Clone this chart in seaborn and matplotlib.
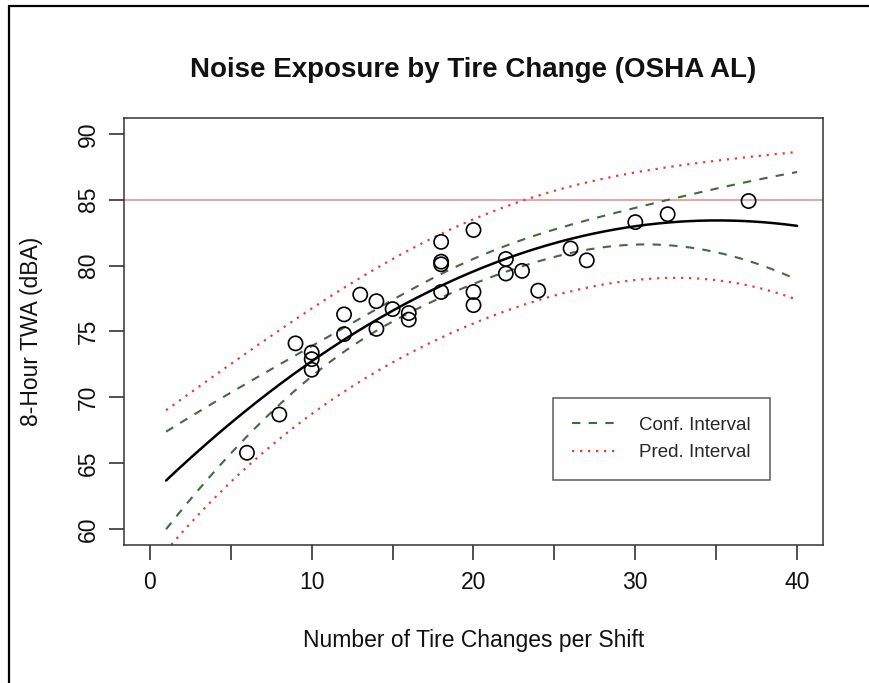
import numpy as np
import pandas as pd
import matplotlib
matplotlib.use("Agg")
import matplotlib.pyplot as plt
import seaborn as sns
from matplotlib.lines import Line2D

tire_changes = [6, 8, 9, 10, 10, 10, 12, 12, 13, 14, 14, 15, 16, 16,
                18, 18, 18, 18, 20, 20, 20, 22, 22, 23, 24, 26, 27, 30, 32, 37]
twa_dba = [65.8, 68.7, 74.1, 73.4, 72.9, 72.1, 76.3, 74.8, 77.8, 77.3, 75.2, 76.7, 76.4, 75.9,
           81.8, 80.3, 80.1, 78.0, 82.7, 78.0, 77.0, 80.5, 79.4, 79.6, 78.1, 81.3, 80.4, 83.3, 83.9, 84.9]

osha_al = 85
x_ticks = [0, 5, 10, 15, 20, 25, 30, 35, 40]
x_tick_labels = ["0", "", "10", "", "20", "", "30", "", "40"]
y_ticks = [60, 65, 70, 75, 80, 85, 90]
y_tick_labels = ["60", "65", "70", "75", "80", "85", "90"]
legend_labels = ["Conf. Interval", "Pred. Interval"]

# two-sided 95% t quantile for n - 3 = 27 residual degrees of freedom
T_CRIT = 2.0518


def quadratic_fit(x, y, x_new):
    """Quadratic least-squares fit with confidence and prediction bands."""
    x = np.asarray(x, dtype=float)
    y = np.asarray(y, dtype=float)
    X = np.column_stack([np.ones_like(x), x, x ** 2])
    beta, *_ = np.linalg.lstsq(X, y, rcond=None)
    resid = y - X @ beta
    s2 = resid @ resid / (len(x) - X.shape[1])
    xtx_inv = np.linalg.inv(X.T @ X)
    X_new = np.column_stack([np.ones_like(x_new), x_new, x_new ** 2])
    fit = X_new @ beta
    se_fit = np.sqrt(s2 * np.einsum("ij,jk,ik->i", X_new, xtx_inv, X_new))
    se_pred = np.sqrt(s2 + se_fit ** 2)
    return pd.DataFrame({
        "x": x_new,
        "fit": fit,
        "ci_lo": fit - T_CRIT * se_fit,
        "ci_hi": fit + T_CRIT * se_fit,
        "pi_lo": fit - T_CRIT * se_pred,
        "pi_hi": fit + T_CRIT * se_pred,
    })


fit_df = quadratic_fit(tire_changes, twa_dba, np.linspace(1, 40, 300))

sns.set_theme(style="white")
plt.rcParams["font.family"] = ["Liberation Sans", "DejaVu Sans"]

W, H = 870, 683
fig = plt.figure(figsize=(W / 100, H / 100), dpi=100)
left, right, top, bottom = 124, 823, 118, 545
ax = fig.add_axes([left / W, 1 - bottom / H, (right - left) / W, (bottom - top) / H])

green = "#3c6e3c"
red = "#e8383a"

ax.axhline(osha_al, color="#ea8a8a", lw=1.1, zorder=1)

sns.lineplot(data=fit_df, x="x", y="ci_hi", ax=ax, color=green, lw=1.5,
             linestyle=(0, (4, 4)), estimator=None, label=legend_labels[0])
sns.lineplot(data=fit_df, x="x", y="ci_lo", ax=ax, color=green, lw=1.5,
             linestyle=(0, (4, 4)), estimator=None)
sns.lineplot(data=fit_df, x="x", y="pi_hi", ax=ax, color=red, lw=1.6,
             linestyle=(0, (1, 2.6)), estimator=None, label=legend_labels[1])
sns.lineplot(data=fit_df, x="x", y="pi_lo", ax=ax, color=red, lw=1.6,
             linestyle=(0, (1, 2.6)), estimator=None)
sns.lineplot(data=fit_df, x="x", y="fit", ax=ax, color="black", lw=1.8,
             estimator=None)

sns.scatterplot(x=tire_changes, y=twa_dba, ax=ax, marker="o", s=105,
                facecolor="none", edgecolor="black", linewidth=1.2, zorder=5)

ax.set_xlim(-1.6, 41.6)
ax.set_ylim(58.8, 91.2)
ax.set_xticks(x_ticks)
ax.set_xticklabels(x_tick_labels)
ax.set_yticks(y_ticks)
ax.set_yticklabels(y_tick_labels, rotation=90, va="center")
ax.tick_params(axis="both", direction="out", length=11, width=1.1,
               color="#222222", labelsize=16.5, labelcolor="#111111",
               bottom=True, left=True)
ax.tick_params(axis="x", pad=8)
ax.tick_params(axis="y", pad=6.5)
for sp in ax.spines.values():
    sp.set_color("#333333")
    sp.set_linewidth(1.1)

ax.set_xlabel("Number of Tire Changes per Shift", fontsize=16.5, va="center", color="#111111")
ax.xaxis.set_label_coords(0.5, (bottom - 641) / (bottom - top))
ax.set_ylabel("8-Hour TWA (dBA)", fontsize=16.5, va="center", color="#111111")
ax.yaxis.set_label_coords((32 - left) / (right - left), 0.5)

fig.text((left + right) / 2 / W, 1 - 70 / H, "Noise Exposure by Tire Change (OSHA AL)",
         ha="center", va="center", fontsize=20, fontweight="bold", color="#111111")

leg = ax.legend(loc="upper left", bbox_to_anchor=(553 / W, 1 - 398 / H),
                bbox_transform=fig.transFigure, frameon=True, fancybox=False,
                edgecolor="#333333", fontsize=13.5, handlelength=2.5,
                handletextpad=1.1, borderpad=1.0, labelspacing=0.55,
                borderaxespad=0)
leg.get_frame().set_linewidth(1.1)

# outer frame of the original screenshot (left and top edges)
fig.add_artist(Line2D([9 / W, 9 / W], [0, 1 - 6 / H], transform=fig.transFigure,
                      color="black", lw=1.6))
fig.add_artist(Line2D([9 / W, 1], [1 - 6 / H, 1 - 6 / H], transform=fig.transFigure,
                      color="black", lw=1.6))

fig.savefig("out.png", dpi=100)
